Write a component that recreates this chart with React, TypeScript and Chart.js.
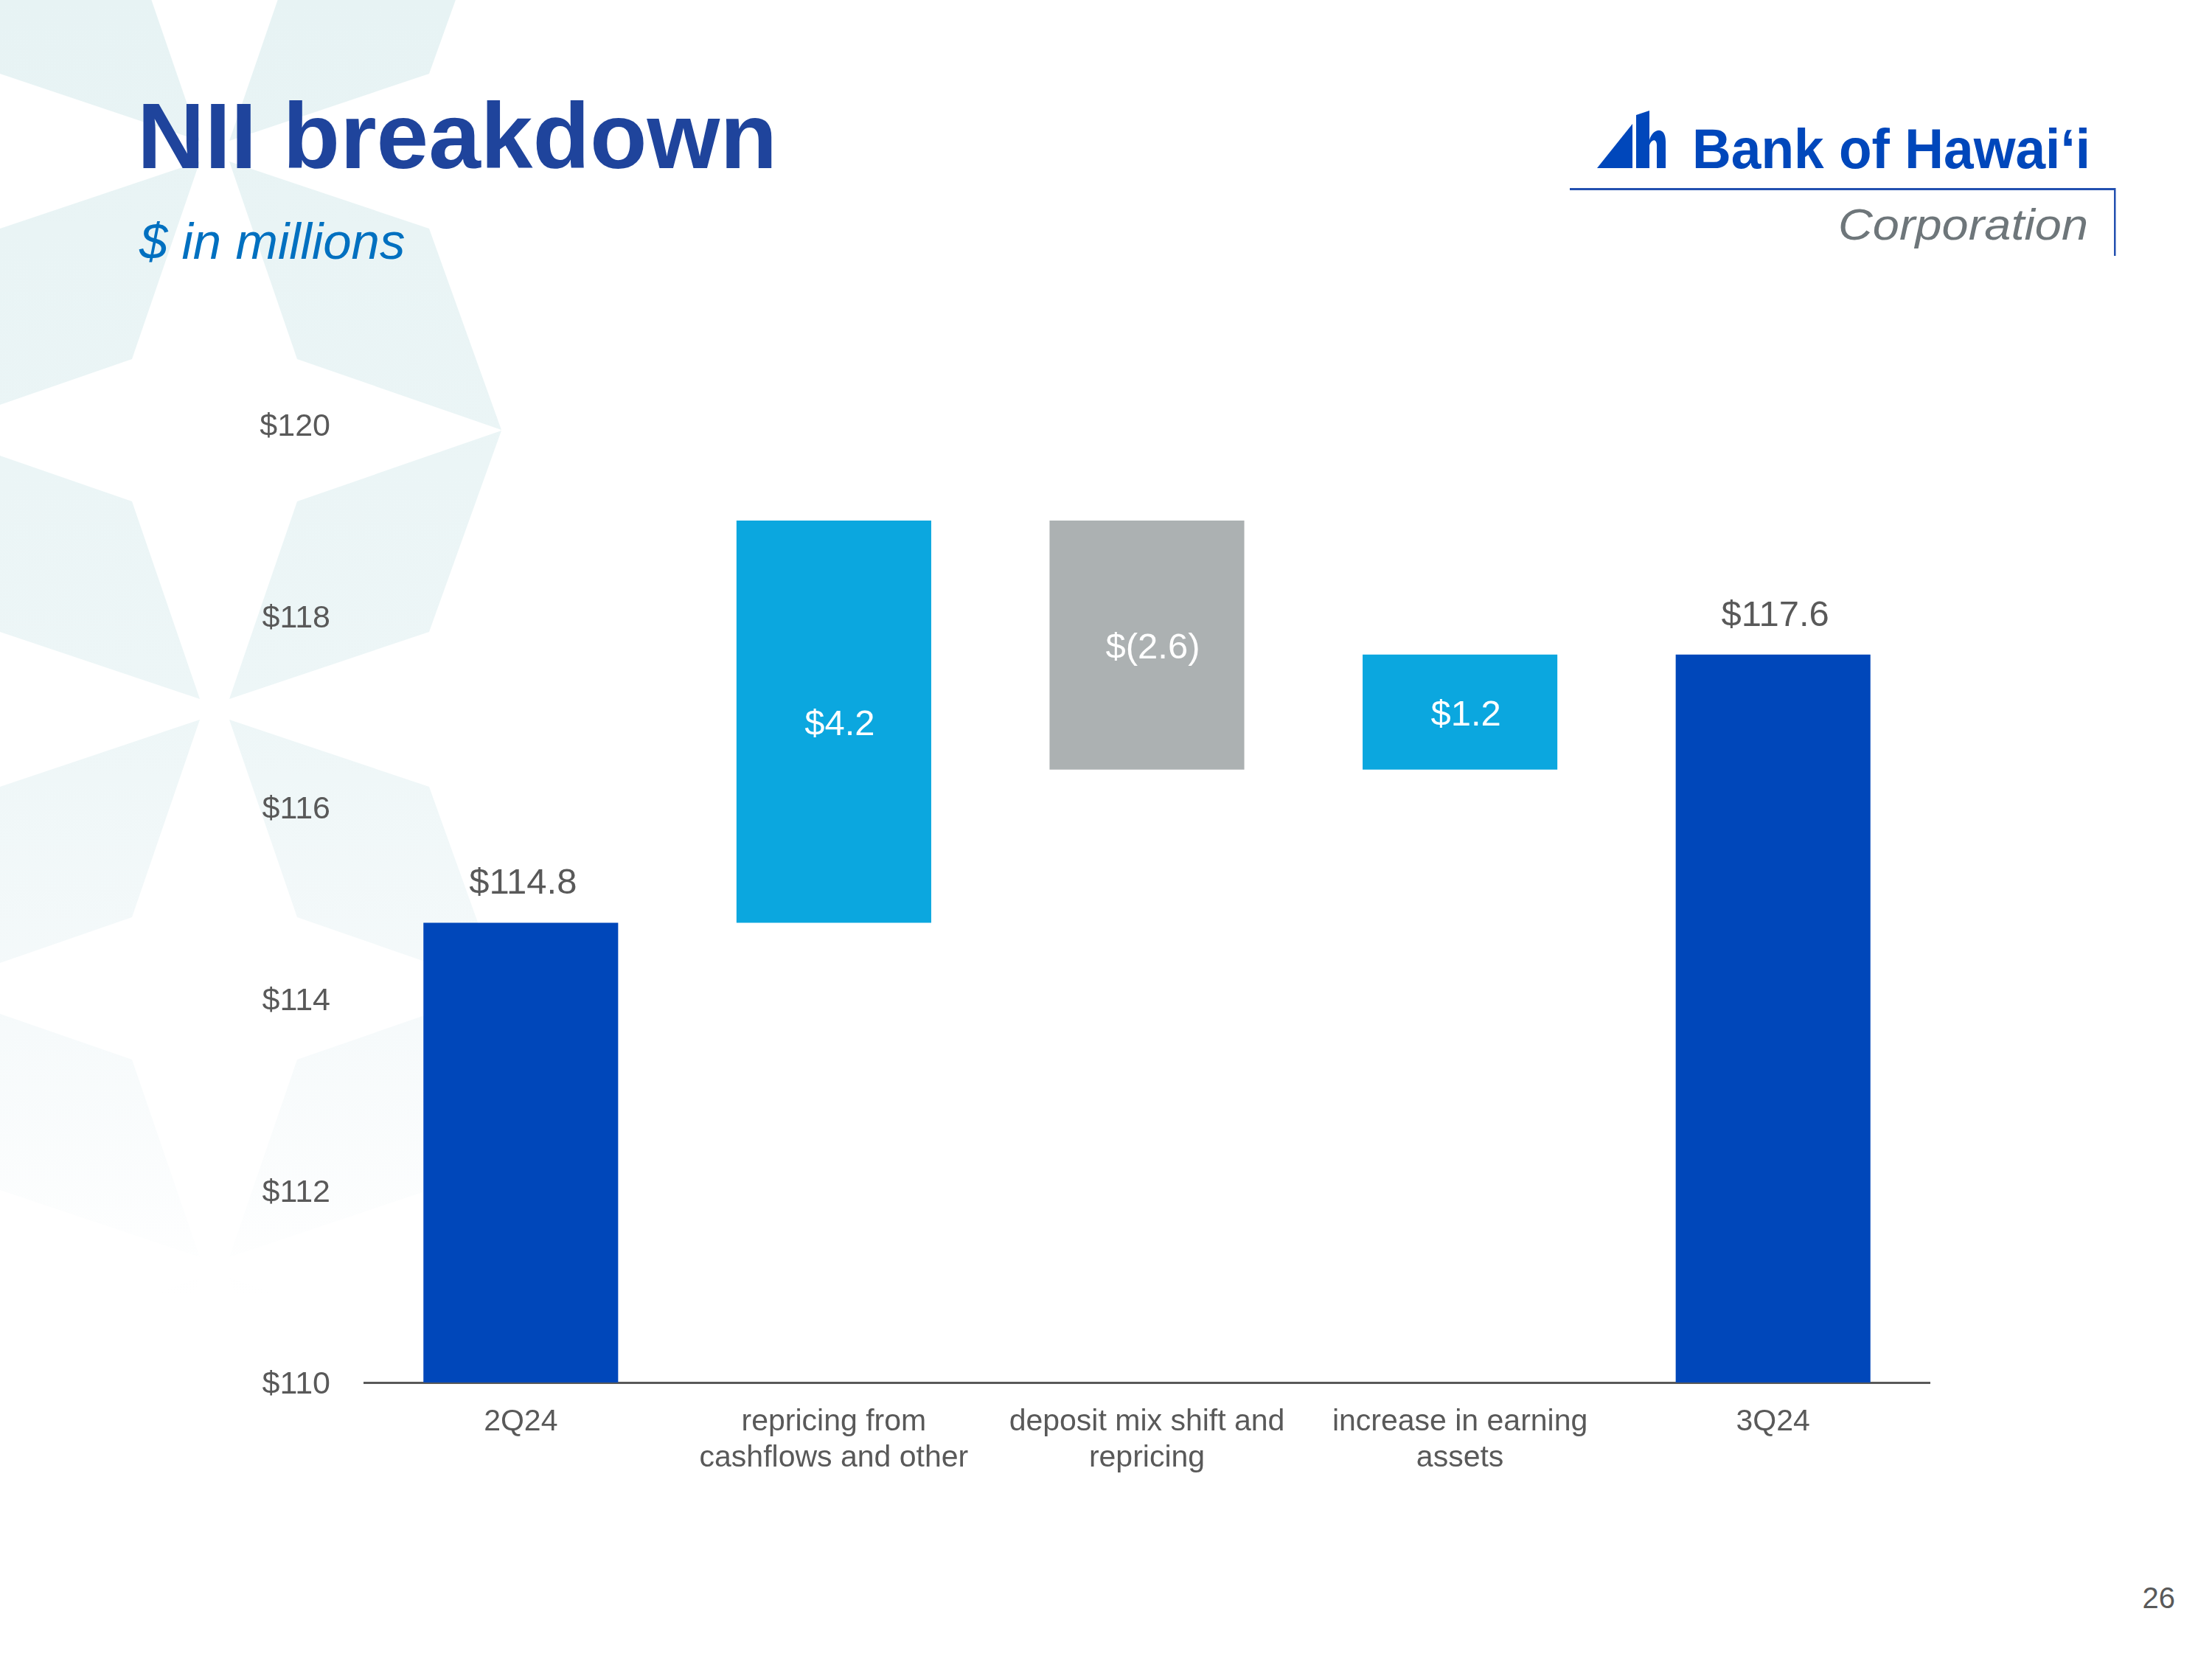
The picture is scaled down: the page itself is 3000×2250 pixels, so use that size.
import React, { useEffect, useRef } from "react";
import { Chart, registerables } from "chart.js";

Chart.register(...registerables);

// ---------- data ----------
const categories: (string | string[])[] = [
  "2Q24",
  ["repricing from", "cashflows and other"],
  ["deposit mix shift and", "repricing"],
  ["increase in earning", "assets"],
  "3Q24",
];
const barStart = [110, 114.8, 119.0, 116.4, 110];
const barEnd = [114.8, 119.0, 116.4, 117.6, 117.6];
const valueLabels = ["$114.8", "$4.2", "$(2.6)", "$1.2", "$117.6"];
const isTotal = [true, false, false, false, true];
const barColors = ["#0047BA", "#0BA7DF", "#ACB1B2", "#0BA7DF", "#0047BA"];
const yTickValues = [110, 112, 114, 116, 118, 120];

const FONT = "'Liberation Sans', Arial, Helvetica, sans-serif";

const labelPlugin = {
  id: "waterfallLabels",
  afterDatasetsDraw(chart: any) {
    const ctx = chart.ctx;
    const meta = chart.getDatasetMeta(0);
    meta.data.forEach((bar: any, i: number) => {
      const { x, y, base } = bar.getProps(["x", "y", "base"], true);
      ctx.save();
      ctx.font = `49px ${FONT}`;
      ctx.textAlign = "center";
      if (isTotal[i]) {
        ctx.fillStyle = "#595959";
        ctx.textBaseline = "alphabetic";
        ctx.fillText(valueLabels[i], x + 3, Math.min(y, base) - 39);
      } else {
        ctx.fillStyle = "#FFFFFF";
        ctx.textBaseline = "middle";
        ctx.fillText(valueLabels[i], x + 8, (y + base) / 2 + 5);
      }
      ctx.restore();
    });
  },
};

// background star petals (decorative)
const starCenters = [
  [291, 205],
  [291, 962],
  [291, 1719],
];
function petalPoints(cx: number, cy: number, sx: number, sy: number) {
  const pts = [
    [20, 14],
    [291, 105],
    [389, 378],
    [112, 282],
  ];
  return pts.map(([px, py]) => `${cx + sx * px},${cy + sy * py}`).join(" ");
}

export default function App() {
  const canvasRef = useRef<HTMLCanvasElement | null>(null);

  useEffect(() => {
    if (!canvasRef.current) return;
    const chart = new Chart(canvasRef.current, {
      type: "bar",
      data: {
        labels: categories as any,
        datasets: [
          {
            data: categories.map((_, i) => [barStart[i], barEnd[i]]) as any,
            backgroundColor: barColors,
            borderWidth: 0,
            barPercentage: 0.622,
            categoryPercentage: 1,
          },
        ],
      },
      options: {
        responsive: false,
        maintainAspectRatio: false,
        animation: false,
        events: [],
        devicePixelRatio: 1,
        layout: { padding: { top: 576, right: 383, bottom: 0, left: 0 } },
        plugins: {
          legend: { display: false },
          tooltip: { enabled: false },
          title: { display: false },
        },
        scales: {
          x: {
            grid: { display: false },
            border: { display: true, color: "#595959", width: 3 },
            ticks: {
              color: "#595959",
              font: { family: FONT, size: 41, lineHeight: 1.2 },
              padding: 21,
              maxRotation: 0,
              autoSkip: false,
            },
            afterFit: (s: any) => {
              s.height = 375;
            },
          },
          y: {
            min: 110,
            max: 120,
            grid: { display: false },
            border: { display: false },
            ticks: {
              color: "#595959",
              font: { family: FONT, size: 43 },
              padding: 38,
              labelOffset: 3,
              callback: (v: any) => "$" + v,
            },
            afterBuildTicks: (s: any) => {
              s.ticks = yTickValues.map((v) => ({ value: v }));
            },
            afterFit: (s: any) => {
              s.width = 494;
            },
          },
        },
      },
      plugins: [labelPlugin],
    });
    return () => chart.destroy();
  }, []);

  return (
    <div
      style={{
        position: "absolute",
        left: 0,
        top: 0,
        width: 3000,
        height: 2250,
        background: "#FFFFFF",
        overflow: "hidden",
      }}
    >
      <svg
        width={3000}
        height={2250}
        style={{ position: "absolute", left: 0, top: 0 }}
      >
        <defs>
          <linearGradient id="bgfade" x1="0" y1="0" x2="0" y2="2250" gradientUnits="userSpaceOnUse">
            <stop offset="0" stopColor="#E7F3F4" />
            <stop offset="0.42" stopColor="#EDF6F7" />
            <stop offset="0.62" stopColor="#F6FAFB" />
            <stop offset="0.78" stopColor="#FFFFFF" />
          </linearGradient>
        </defs>
        {starCenters.map(([cx, cy], k) =>
          [
            [1, 1],
            [1, -1],
            [-1, 1],
            [-1, -1],
          ].map(([sx, sy], j) => (
            <polygon key={`${k}-${j}`} points={petalPoints(cx, cy, sx, sy)} fill="url(#bgfade)" />
          ))
        )}

        <text x={186} y={228} fontFamily={FONT} fontWeight="bold" fontSize={127} fill="#1F449C">
          NII breakdown
        </text>
        <text x={189} y={351} fontFamily={FONT} fontStyle="italic" fontSize={69} fill="#0070C0">
          $ in millions
        </text>

        {/* logo */}
        <polygon points="2166,228 2214,168 2214,228" fill="#0047BB" />
        <polygon points="2219,228 2219,156 2237,150 2237,228" fill="#0047BB" />
        <path
          d="M 2237 190 C 2241 174, 2259 170, 2259 192 L 2259 228 L 2247 228 L 2247 197 C 2247 188, 2240 188, 2237 197 Z"
          fill="#0047BB"
        />
        <text
          x={2295}
          y={228}
          fontFamily={FONT}
          fontWeight="bold"
          fontSize={76}
          fill="#0047BB"
          textLength={540}
          lengthAdjust="spacingAndGlyphs"
        >
          Bank of Hawai‘i
        </text>
        <rect x={2129} y={255} width={740} height={3} fill="#2350B0" />
        <rect x={2867} y={255} width={2.5} height={92} fill="#2350B0" />
        <text
          x={2493}
          y={325}
          fontFamily={FONT}
          fontStyle="italic"
          fontSize={60}
          fill="#6E767A"
          textLength={339}
          lengthAdjust="spacingAndGlyphs"
        >
          Corporation
        </text>

        <text x={2950} y={2181} fontFamily={FONT} fontSize={40} fill="#595959" textAnchor="end">
          26
        </text>
      </svg>
      <canvas
        ref={canvasRef}
        width={3000}
        height={2250}
        style={{ position: "absolute", left: 0, top: 0, width: 3000, height: 2250 }}
      />
    </div>
  );
}
